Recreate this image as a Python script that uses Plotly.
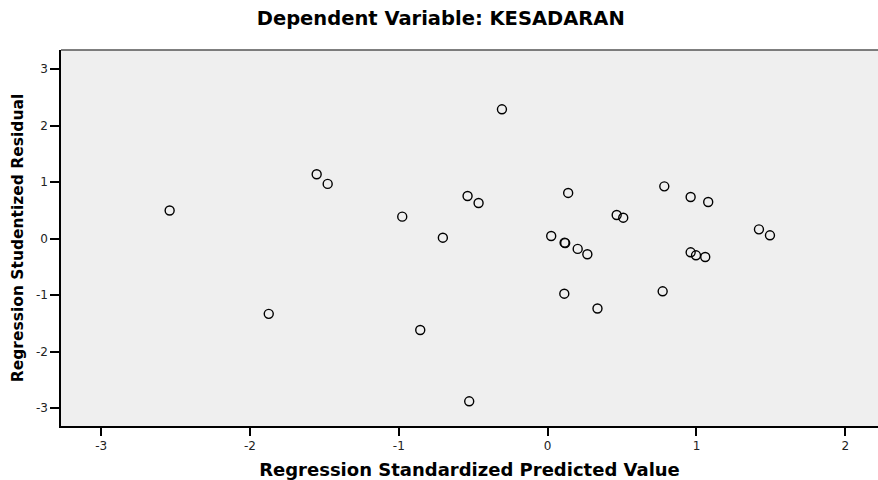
import plotly.graph_objects as go

# Regression Standardized Predicted Value (x) and Studentized Residual (y)
pred = [-2.54, -1.552, -1.478, -1.874, -0.977, -0.856, -0.704, -0.538, -0.464, -0.307,
        -0.527, 0.024, 0.114, 0.118, 0.202, 0.267, 0.138, 0.112, 0.335, 0.464,
        0.508, 0.784, 0.773, 0.961, 1.079, 0.961, 0.997, 1.059, 1.42, 1.494]
resid = [0.50, 1.14, 0.97, -1.33, 0.39, -1.616, 0.018, 0.756, 0.632, 2.29,
         -2.878, 0.048, -0.07, -0.078, -0.18, -0.276, 0.81, -0.973, -1.235, 0.419,
         0.372, 0.927, -0.931, 0.738, 0.65, -0.241, -0.294, -0.324, 0.166, 0.06]

x_ticks = [-3, -2, -1, 0, 1, 2]
y_ticks = [-3, -2, -1, 0, 1, 2, 3]

FONT = "DejaVu Sans, Liberation Sans, Arial, sans-serif"

fig = go.Figure()
fig.add_trace(go.Scatter(
    x=pred, y=resid, mode="markers",
    marker=dict(symbol="circle-open", size=9, color="black", line=dict(width=1.4, color="black")),
    showlegend=False, hoverinfo="x+y",
))

fig.update_layout(
    width=878, height=480,
    margin=dict(l=61, r=0, t=50, b=54, autoexpand=False),
    paper_bgcolor="white",
    plot_bgcolor="#efefef",
    title=dict(text="<b>Dependent Variable: KESADARAN</b>", x=0.502, xanchor="center",
               y=1 - 18 / 480, yanchor="middle",
               font=dict(family=FONT, size=19.5, color="black")),
    font=dict(family=FONT, color="black"),
)
fig.update_xaxes(
    range=[-3.27, 2.22], tickvals=x_ticks, ticktext=[str(v) for v in x_ticks],
    showgrid=False, zeroline=False, showline=True, linecolor="black", linewidth=1.5,
    ticks="outside", ticklen=8, tickwidth=1.5, tickcolor="black", automargin=False,
    tickfont=dict(family=FONT, size=12, color="#222"),
    title=dict(text="<b>Regression Standardized Predicted Value</b>", standoff=12,
               font=dict(family=FONT, size=18, color="black")),
)
fig.update_yaxes(
    range=[-3.315, 3.34], tickvals=y_ticks, ticktext=[str(v) for v in y_ticks],
    showgrid=False, zeroline=False, showline=True, linecolor="black", linewidth=1.5,
    ticks="outside", ticklen=9, tickwidth=1.5, tickcolor="black", automargin=False,
    tickfont=dict(family=FONT, size=12, color="#222"),
    title=dict(text="<b>Regression Studentized Residual</b>", standoff=8,
               font=dict(family=FONT, size=15.5, color="black")),
)
fig.add_shape(type="line", xref="paper", yref="paper", x0=0, x1=1, y0=1, y1=1,
              line=dict(color="#555", width=1.5))

fig.write_html("out.html", config={"displayModeBar": False},
               post_script="document.body.style.margin='0';")
